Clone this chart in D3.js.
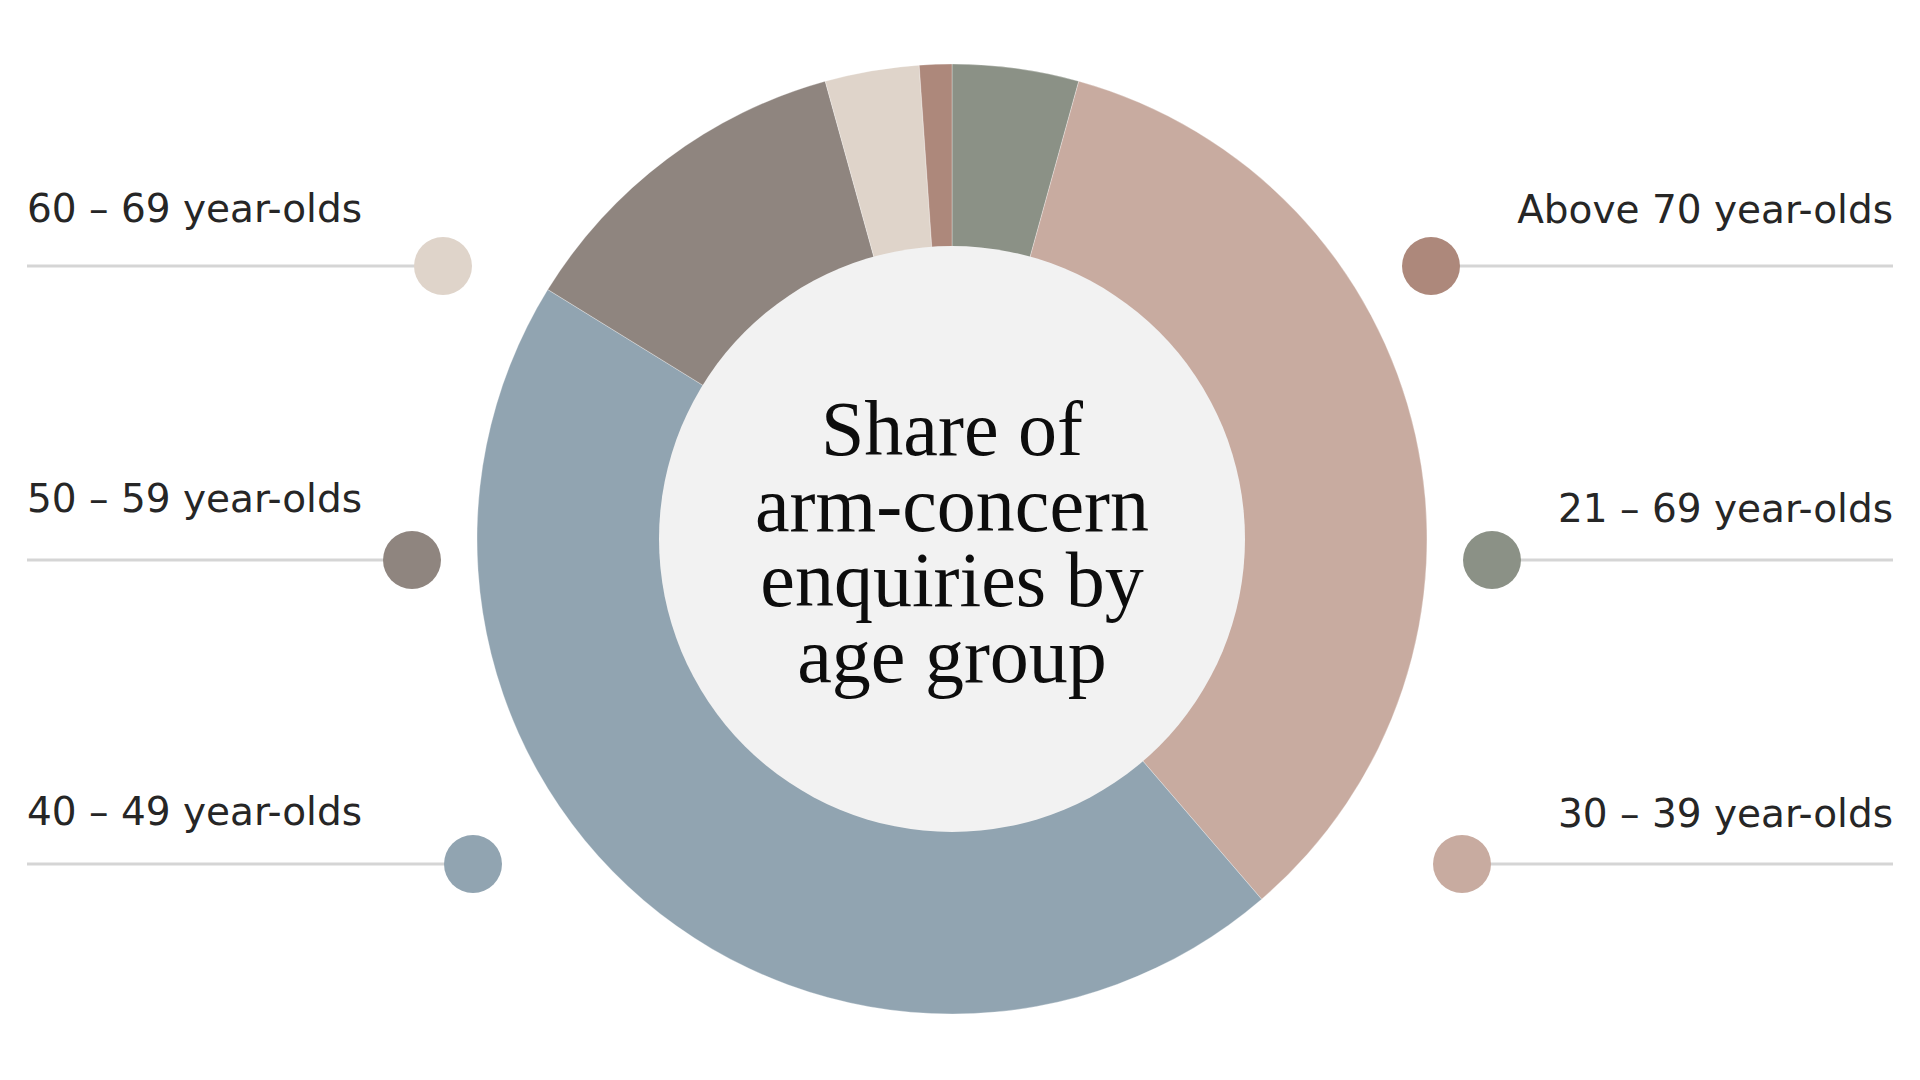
<!DOCTYPE html>
<html>
<head>
<meta charset="utf-8">
<script src="https://cdn.jsdelivr.net/npm/d3@7"></script>
<style>
  html, body { margin: 0; padding: 0; background: #ffffff; }
  svg { display: block; }
</style>
</head>
<body>
<svg id="chart" width="1920" height="1080"></svg>
<script>
// ---- data ----
const categories = ["21 – 69 year-olds", "30 – 39 year-olds", "40 – 49 year-olds",
                    "50 – 59 year-olds", "60 – 69 year-olds", "Above 70 year-olds"];
const shares = [4.3, 34.4, 45.1, 11.9, 3.2, 1.1];
const titleLines = ["Share of", "arm-concern", "enquiries by", "age group"];

// ---- styles / layout ----
const palette = ["#8b9186", "#c8aba0", "#91a4b1", "#8f857f", "#dfd4ca", "#ad887b"];
const W = 1920, H = 1080;
const cx = 952, cy = 539, rOuter = 475, rInner = 293;

// legend layout per category (side, row line y, dot x, label baseline)
const legendLayout = {
  "60 – 69 year-olds":  { side: "left",  lineY: 266, dotX: 443,  textY: 222 },
  "50 – 59 year-olds":  { side: "left",  lineY: 560, dotX: 412,  textY: 512 },
  "40 – 49 year-olds":  { side: "left",  lineY: 864, dotX: 473,  textY: 825 },
  "Above 70 year-olds": { side: "right", lineY: 266, dotX: 1431, textY: 223 },
  "21 – 69 year-olds":  { side: "right", lineY: 560, dotX: 1492, textY: 522 },
  "30 – 39 year-olds":  { side: "right", lineY: 864, dotX: 1462, textY: 827 }
};
const leftX = 27, rightX = 1893;

const svg = d3.select("#chart");
const color = d3.scaleOrdinal().domain(categories).range(palette);

const data = categories.map((c, i) => ({ category: c, value: shares[i] }));

const pie = d3.pie().value(d => d.value).sort(null).startAngle(0).endAngle(2 * Math.PI);
const arc = d3.arc().innerRadius(rInner - 2).outerRadius(rOuter);

const g = svg.append("g").attr("transform", `translate(${cx},${cy})`);
g.selectAll("path.slice")
  .data(pie(data))
  .join("path")
  .attr("class", "slice")
  .attr("d", arc)
  .attr("fill", d => color(d.data.category))
  .attr("stroke", "#ffffff")
  .attr("stroke-opacity", 0.5)
  .attr("stroke-width", 0.6);

g.append("circle")
  .attr("r", rInner)
  .attr("fill", "#f2f2f2");

// center title
const lineStep = 75.5;
g.append("text")
  .attr("text-anchor", "middle")
  .attr("font-family", "'Liberation Serif', 'DejaVu Serif', serif")
  .attr("font-size", 78)
  .attr("fill", "#0d0d0d")
  .selectAll("tspan")
  .data(titleLines)
  .join("tspan")
  .attr("x", 0)
  .attr("y", (d, i) => 455 - cy + i * lineStep)
  .text(d => d);

// legend
const legend = svg.append("g").attr("class", "legend");
const items = legend.selectAll("g.item")
  .data(data)
  .join("g")
  .attr("class", "item");

items.append("line")
  .attr("x1", d => legendLayout[d.category].side === "left" ? leftX : legendLayout[d.category].dotX)
  .attr("x2", d => legendLayout[d.category].side === "left" ? legendLayout[d.category].dotX : rightX)
  .attr("y1", d => legendLayout[d.category].lineY)
  .attr("y2", d => legendLayout[d.category].lineY)
  .attr("stroke", "#d5d5d5")
  .attr("stroke-width", 3);

items.append("circle")
  .attr("cx", d => legendLayout[d.category].dotX)
  .attr("cy", d => legendLayout[d.category].lineY)
  .attr("r", 29)
  .attr("fill", d => color(d.category));

items.append("text")
  .attr("x", d => legendLayout[d.category].side === "left" ? leftX : rightX)
  .attr("y", d => legendLayout[d.category].textY)
  .attr("text-anchor", d => legendLayout[d.category].side === "left" ? "start" : "end")
  .attr("font-family", "'DejaVu Sans', 'Noto Sans', sans-serif")
  .attr("font-size", 39)
  .attr("fill", "#262626")
  .text(d => d.category);
</script>
</body>
</html>
